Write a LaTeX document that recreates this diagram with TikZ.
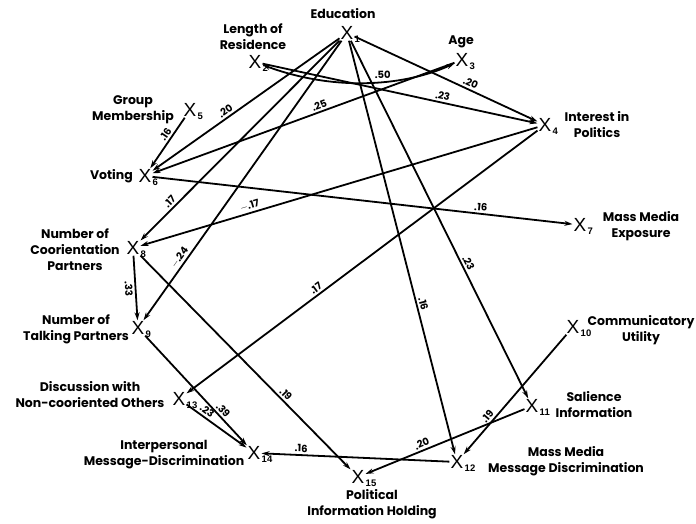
\documentclass[tikz,border=0pt]{standalone}
\usepackage{fontspec}
\setmainfont{Poppins}
\newfontfamily\varfont{Liberation Sans}
\usetikzlibrary{arrows.meta}
\begin{document}
\begin{tikzpicture}[x=1pt,y=-1pt,
  var/.style={font=\varfont\fontsize{19}{19}\selectfont, inner sep=1pt},
  sub/.style={font=\varfont\bfseries\fontsize{9.5}{9.5}\selectfont, inner sep=0pt, anchor=north west, yshift=5pt},
  txt/.style={font=\bfseries\fontsize{12.5}{16}\selectfont, align=center, inner sep=0pt},
  num/.style={font=\bfseries\fontsize{10}{10}\selectfont, inner sep=2pt},
  arr/.style={line width=1.8pt, -{Stealth[length=8pt,width=5pt]}},
  dbl/.style={line width=1.8pt, {Stealth[length=8pt,width=5pt]}-{Stealth[length=8pt,width=5pt]}},
]
\useasboundingbox (0,0) rectangle (696,523);

% variables
\node[var,label={[sub]south east:1}]  (x1)  at (347,33)  {X};
\node[var,label={[sub]south east:2}]  (x2)  at (255,62)  {X};
\node[var,label={[sub]south east:3}]  (x3)  at (462,60)  {X};
\node[var,label={[sub]south east:4}]  (x4)  at (545,125) {X};
\node[var,label={[sub]south east:5}]  (x5)  at (190,110) {X};
\node[var,label={[sub]south east:6}]  (x6)  at (145,176) {X};
\node[var,label={[sub]south east:7}]  (x7)  at (580,225) {X};
\node[var,label={[sub]south east:8}]  (x8)  at (133,248) {X};
\node[var,label={[sub]south east:9}]  (x9)  at (138,328) {X};
\node[var,label={[sub]south east:10}] (x10) at (573,327) {X};
\node[var,label={[sub]south east:11}] (x11) at (532,406) {X};
\node[var,label={[sub]south east:12}] (x12) at (457,462) {X};
\node[var,label={[sub]south east:13}] (x13) at (179,399) {X};
\node[var,label={[sub]south east:14}] (x14) at (254,453) {X};
\node[var,label={[sub]south east:15}] (x15) at (358,477) {X};

% variable names
\node[txt] (n1)  at (343,14)  {Education};
\node[txt] (n2)  at (253,37)  {Length of\\Residence};
\node[txt] (n3)  at (461,42)  {Age};
\node[txt] (n4)  at (597,125) {Interest in\\Politics};
\node[txt] (n5)  at (133,110) {Group\\Membership};
\node[txt,anchor=east] (n6) at (133,176) {Voting};
\node[txt] (n7)  at (641,226) {Mass Media\\Exposure};
\node[txt] (n8)  at (75,250)  {Number of\\Coorientation\\Partners};
\node[txt] (n9)  at (76,329)  {Number of\\Talking Partners};
\node[txt] (n10) at (641,330) {Communicatory\\Utility};
\node[txt] (n11) at (594,405) {Salience\\Information};
\node[txt] (n12) at (566,461) {Mass Media\\Message Discrimination};
\node[txt] (n13) at (90,395)  {Discussion with\\Non-cooriented Others};
\node[txt] (n14) at (164,455) {Interpersonal\\Message-Discrimination};
\node[txt] (n15) at (372,504) {Political\\Information Holding};

% paths
\draw[dbl] (x2) .. controls (330,90) and (400,88) .. node[num,pos=.6,above]{.50} (x3);
\draw[arr] (x1) -- node[num,pos=.62,above,sloped]{.20} (x4);
\draw[arr] (x1) -- node[num,pos=.59,above,sloped]{.20} (x6);
\draw[arr] (x1) -- node[num,pos=.83,above,sloped]{.17} (x8);
\draw[arr] (x1) -- node[num,pos=.79,above,sloped]{$-$.24} (x9);
\draw[arr] (x1) -- node[num,pos=.63,above,sloped]{.23} (x11);
\draw[arr] (x1) -- node[num,pos=.64,above,sloped]{.16} (x12);
\draw[arr] (x2) -- node[num,pos=.65,above,sloped]{.23} (x4);
\draw[arr] (x3) -- node[num,pos=.44,above,sloped]{.25} (x6);
\draw[arr] (x5) -- node[num,pos=.4,above,sloped]{.16} (x6);
\draw[arr] (x4) -- node[num,pos=.72,above,sloped]{$-$.17} (x8);
\draw[arr] (x4) -- node[num,pos=.62,above,sloped]{.17} (x13);
\draw[arr] (x6) -- node[num,pos=.78,above,sloped]{.16} (x7);
\draw[arr] (x8) -- node[num,pos=.5,below,sloped]{.33} (x9);
\draw[arr] (x8) -- node[num,pos=.67,above,sloped]{.19} (x15);
\draw[arr] (x9) -- node[num,pos=.72,above,sloped]{.39} (x14);
\draw[arr] (x13) -- node[num,pos=.28,above,sloped]{.23} (x14);
\draw[arr] (x12) -- node[num,pos=.79,above,sloped]{.16} (x14);
\draw[arr] (x11) -- node[num,pos=.63,above,sloped]{.20} (x15);
\draw[arr] (x10) -- node[num,pos=.72,above,sloped]{.19} (x12);
\end{tikzpicture}
\end{document}
